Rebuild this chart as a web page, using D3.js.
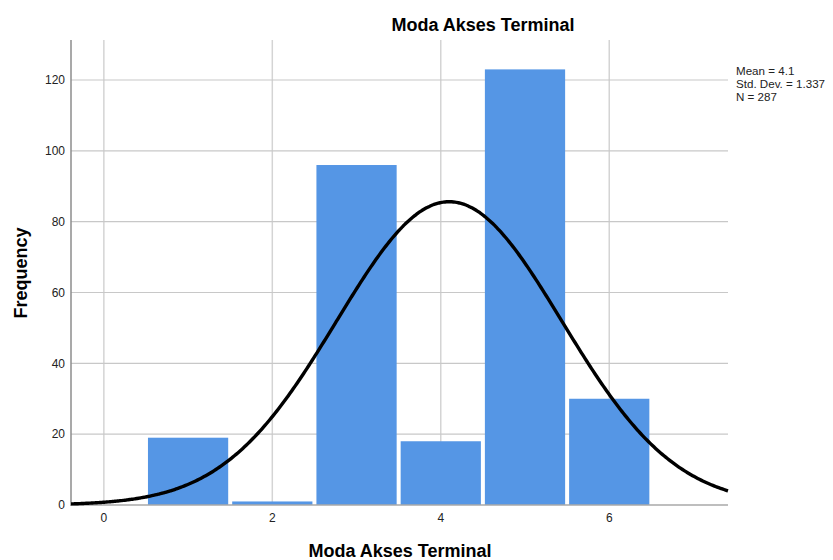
<!DOCTYPE html>
<html>
<head>
<meta charset="utf-8">
<script src="https://cdn.jsdelivr.net/npm/d3@7/dist/d3.min.js"></script>
<style>
  html, body { margin: 0; padding: 0; background: #fff; }
  svg { display: block; font-family: "Liberation Sans", Arial, sans-serif; }
</style>
</head>
<body>
<svg id="chart" width="833" height="560"></svg>
<script>
// Frequencies of each access mode code
const categories = [1, 2, 3, 4, 5, 6];
const frequencies = [19, 1, 96, 18, 123, 30];
const xTicks = [0, 2, 4, 6];
const yTicks = [0, 20, 40, 60, 80, 100, 120];
const statsLines = ["Mean = 4.1", "Std. Dev. = 1.337", "N = 287"];

const mean = 4.1, sd = 1.337, n = 287, binWidth = 1;

const svg = d3.select("#chart");
const plotLeft = 71, plotRight = 728, plotTop = 40, plotBottom = 505;

const x = d3.scaleLinear().domain([-0.39, 7.41]).range([plotLeft, plotRight]);
const y = d3.scaleLinear().domain([0, 131.3]).range([plotBottom, plotTop]);

// gridlines
svg.append("g").selectAll("line").data(xTicks).join("line")
  .attr("x1", d => x(d)).attr("x2", d => x(d))
  .attr("y1", plotTop).attr("y2", plotBottom)
  .attr("stroke", "#d4d4d4").attr("stroke-width", 1.5);
svg.append("g").selectAll("line").data(yTicks.filter(d => d > 0)).join("line")
  .attr("x1", plotLeft).attr("x2", plotRight)
  .attr("y1", d => y(d)).attr("y2", d => y(d))
  .attr("stroke", "#c8c8c8").attr("stroke-width", 1.2);

// histogram bars
svg.append("g").selectAll("rect").data(categories).join("rect")
  .attr("x", (d) => x(d - binWidth / 2) + 2)
  .attr("width", (d) => x(d + binWidth / 2) - x(d - binWidth / 2) - 4)
  .attr("y", (d, i) => y(frequencies[i]))
  .attr("height", (d, i) => plotBottom - y(frequencies[i]))
  .attr("fill", "#5596e5");

// axis lines
svg.append("line").attr("x1", plotLeft).attr("x2", plotLeft).attr("y1", plotTop).attr("y2", plotBottom + 1)
  .attr("stroke", "#8c8c8c").attr("stroke-width", 1.5);
svg.append("line").attr("x1", plotLeft).attr("x2", plotRight).attr("y1", plotBottom).attr("y2", plotBottom)
  .attr("stroke", "#a8a8a8").attr("stroke-width", 1.5);

// fitted normal curve
const pdf = v => n * binWidth / (sd * Math.sqrt(2 * Math.PI)) * Math.exp(-0.5 * ((v - mean) / sd) ** 2);
const xs = d3.range(x.domain()[0], x.domain()[1] + 0.001, 0.02);
svg.append("path")
  .datum(xs)
  .attr("d", d3.line().x(d => x(d)).y(d => y(pdf(d))).curve(d3.curveBasis))
  .attr("fill", "none").attr("stroke", "#000").attr("stroke-width", 3.4);

// tick labels
svg.append("g").selectAll("text").data(yTicks).join("text")
  .attr("x", plotLeft - 6).attr("y", d => y(d)).attr("dy", "0.36em")
  .attr("text-anchor", "end").attr("font-size", 12).attr("fill", "#222")
  .text(d => d);
svg.append("g").selectAll("text").data(xTicks).join("text")
  .attr("x", d => x(d)).attr("y", 522)
  .attr("text-anchor", "middle").attr("font-size", 12).attr("fill", "#222")
  .text(d => d);

// titles
svg.append("text").attr("x", 483).attr("y", 31).attr("text-anchor", "middle")
  .attr("font-size", 18).attr("font-weight", "bold").text("Moda Akses Terminal");
svg.append("text").attr("x", 400).attr("y", 557).attr("text-anchor", "middle")
  .attr("font-size", 18).attr("font-weight", "bold").text("Moda Akses Terminal");
svg.append("text").attr("transform", "translate(27,273) rotate(-90)").attr("text-anchor", "middle")
  .attr("font-size", 18).attr("font-weight", "bold").text("Frequency");

// summary statistics
svg.append("g").selectAll("text").data(statsLines).join("text")
  .attr("x", 736).attr("y", (d, i) => 75 + i * 13)
  .attr("font-size", 11.6).attr("fill", "#222")
  .text(d => d);
</script>
</body>
</html>
